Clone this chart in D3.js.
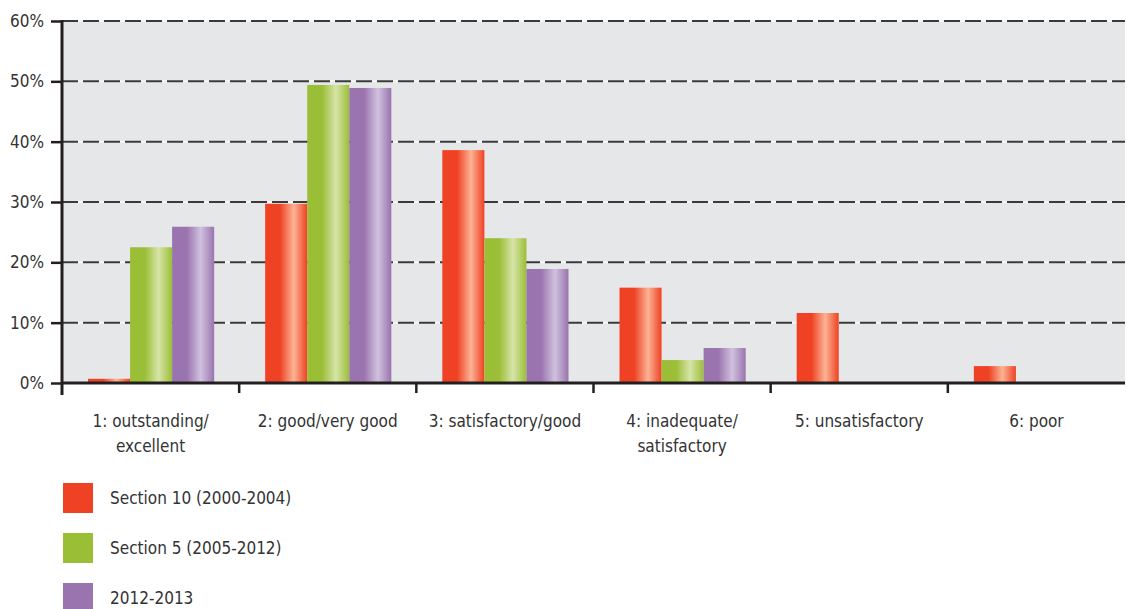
<!DOCTYPE html>
<html>
<head>
<meta charset="utf-8">
<script src="https://cdn.jsdelivr.net/npm/d3@7"></script>
<style>
  body { margin: 0; background: #fff; }
  svg text { font-family: "Liberation Sans Narrow", "DejaVu Sans Condensed", "Roboto", sans-serif; fill: #333; }
</style>
</head>
<body>
<div class="canvas"></div>
<script>
// categories and series
const categories = ['1: outstanding/|excellent', '2: good/very good', '3: satisfactory/good', '4: inadequate/|satisfactory', '5: unsatisfactory', '6: poor']
const seriesNames = ['Section 10 (2000-2004)', 'Section 5 (2005-2012)', '2012-2013']
const section10 = [0.7, 29.7, 38.6, 15.8, 11.6, 2.8]
const section5 = [22.5, 49.4, 24.0, 3.8, 0, 0]
const recent = [25.9, 48.9, 18.9, 5.8, 0, 0]
const yTicks = [0, 10, 20, 30, 40, 50, 60]

const colors = [
  {base: '#ef4123', light: '#fbb394'},
  {base: '#9bbe37', light: '#d7e4a8'},
  {base: '#9a74ae', light: '#d0c1de'}
]

const margin = {top: 21, right: 2, bottom: 226, left: 62}
const width = 1127, height = 609
const graphWidth = width - margin.left - margin.right
const graphHeight = height - margin.top - margin.bottom

const svg = d3.select('.canvas').append('svg')
  .attr('width', width).attr('height', height)

const defs = svg.append('defs')
colors.forEach((c, i) => {
  const g = defs.append('linearGradient').attr('id', 'grad' + i)
    .attr('x1', '0%').attr('x2', '100%').attr('y1', '0%').attr('y2', '0%')
  g.append('stop').attr('offset', '0%').attr('stop-color', c.base)
  g.append('stop').attr('offset', '35%').attr('stop-color', c.base)
  g.append('stop').attr('offset', '68%').attr('stop-color', c.light)
  g.append('stop').attr('offset', '100%').attr('stop-color', c.base)
})

const graph = svg.append('g')
  .attr('transform', `translate(${margin.left}, ${margin.top})`)

const x0 = d3.scaleBand().domain(categories).range([0, graphWidth]).paddingInner(0).paddingOuter(0)
const x1 = d3.scaleBand().domain(seriesNames).range([26, x0.bandwidth() - 25]).padding(0)
const y = d3.scaleLinear().domain([0, 60]).range([graphHeight, 0])

graph.append('rect')
  .attr('width', graphWidth).attr('height', graphHeight)
  .attr('fill', '#e6e7e9')

// grid lines
const grid = graph.append('g')
grid.selectAll('.gw').data(yTicks.slice(1)).enter().append('line')
  .attr('x1', 0).attr('x2', graphWidth)
  .attr('y1', d => y(d)).attr('y2', d => y(d))
  .attr('stroke', '#f6f6f6').attr('stroke-width', 2)
grid.selectAll('.gd').data(yTicks.slice(1)).enter().append('line')
  .attr('x1', 0).attr('x2', graphWidth)
  .attr('y1', d => y(d)).attr('y2', d => y(d))
  .attr('stroke', '#3a3a3a').attr('stroke-width', 2)
  .attr('stroke-dasharray', '16,5')

// bars
const allSeries = [section10, section5, recent]
const groups = graph.selectAll('.grp').data(categories).enter().append('g')
  .attr('transform', d => `translate(${x0(d)},0)`)
groups.selectAll('rect')
  .data((d, i) => allSeries.map((s, j) => ({key: seriesNames[j], value: s[i], j})))
  .enter().append('rect')
  .attr('x', d => x1(d.key))
  .attr('width', x1.bandwidth())
  .attr('y', d => y(d.value))
  .attr('height', d => graphHeight - y(d.value))
  .attr('fill', d => `url(#grad${d.j})`)

// axes
const yAxis = d3.axisLeft(y).tickValues(yTicks).tickSize(11).tickPadding(7).tickFormat(d => d + '%')
const yAxisGroup = graph.append('g').call(yAxis)
yAxisGroup.select('.domain').remove()
yAxisGroup.selectAll('line').attr('stroke', '#231f20').attr('stroke-width', 2.5)
yAxisGroup.selectAll('text').attr('font-size', 17).attr('fill', '#333')

graph.append('line')
  .attr('x1', 0).attr('x2', 0).attr('y1', -1).attr('y2', graphHeight + 12)
  .attr('stroke', '#231f20').attr('stroke-width', 3)
graph.append('line')
  .attr('x1', 0).attr('x2', graphWidth).attr('y1', graphHeight).attr('y2', graphHeight)
  .attr('stroke', '#231f20').attr('stroke-width', 3)

const xAxisGroup = graph.append('g').attr('transform', `translate(0, ${graphHeight})`)
xAxisGroup.selectAll('.tk').data(categories.slice(1)).enter().append('line')
  .attr('x1', d => x0(d)).attr('x2', d => x0(d))
  .attr('y1', 0).attr('y2', 10)
  .attr('stroke', '#231f20').attr('stroke-width', 2.5)

const labels = xAxisGroup.selectAll('.lbl').data(categories).enter().append('text')
  .attr('text-anchor', 'middle')
  .attr('font-size', 17)
  .attr('x', d => x0(d) + x0.bandwidth() / 2)
  .attr('y', 44)
labels.selectAll('tspan').data(d => d.split('|')).enter().append('tspan')
  .attr('x', function() { return this.parentNode.getAttribute('x') })
  .attr('dy', (d, i) => i === 0 ? 0 : 25)
  .text(d => d)

// legend
const legend = svg.append('g').attr('transform', 'translate(63, 483)')
const items = legend.selectAll('g').data(seriesNames).enter().append('g')
  .attr('transform', (d, i) => `translate(0, ${i * 50})`)
items.append('rect').attr('width', 30).attr('height', 30)
  .attr('fill', (d, i) => colors[i].base)
items.append('text').attr('x', 47).attr('y', 21).attr('font-size', 17).text(d => d)
</script>
</body>
</html>
